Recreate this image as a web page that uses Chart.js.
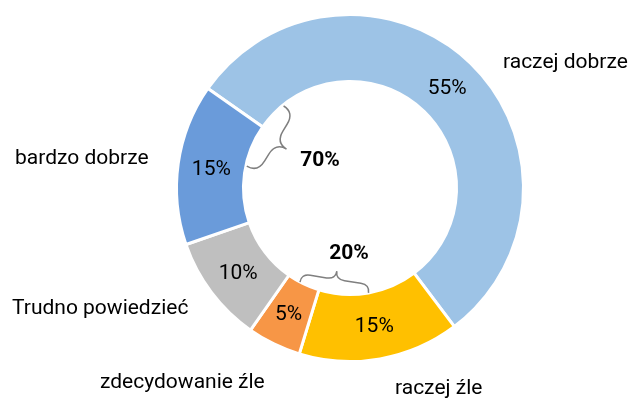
<!DOCTYPE html>
<html>
<head>
<meta charset="utf-8">
<script src="https://cdn.jsdelivr.net/npm/chart.js@4"></script>
<style>
  body { margin: 0; background: #fff; }
  #wrap { width: 632px; height: 402px; position: relative; }
</style>
</head>
<body>
<div id="wrap"><canvas id="chart"></canvas></div>
<script>
const ctx = document.getElementById("chart");

const categories = ["raczej dobrze", "raczej źle", "zdecydowanie źle", "Trudno powiedzieć", "bardzo dobrze"];
const values = [55, 15, 5, 10, 15];
const colors = ["#9DC3E6", "#FFC000", "#F79646", "#BFBFBF", "#6A9BDA"];

// totals shown next to the braces
const groupLabels = ["70%", "20%"];

// category label offsets from the doughnut centre (left, baseline)
const labelPos = [[153, -120], [45, 206], [-250, 200], [-338, 126], [-335, -24]];
// braces: angles in degrees clockwise from top
const braces = [
  { a1: -39, a2: -78, r: 105.5, w: 25, text: [-30, -27] },
  { a1: 170, a2: 208, r: 106.5, w: 16.5, text: [-1, 66] },
];

function drawBrace(c, x1, y1, x2, y2, nx, ny, w) {
  const len = Math.hypot(x2 - x1, y2 - y1);
  const ux = (x2 - x1) / len, uy = (y2 - y1) / len;
  const h = w / 2;
  const k = Math.min(h * 1.1, len / 5);
  const mx = (x1 + x2) / 2, my = (y1 + y2) / 2;
  const half = (px, py, s) => {
    // s = +1 going forward along chord, -1 backward
    c.moveTo(px, py);
    c.quadraticCurveTo(px + nx * h, py + ny * h, px + nx * h + ux * k * s, py + ny * h + uy * k * s);
    c.lineTo(mx + nx * h - ux * k * s, my + ny * h - uy * k * s);
    c.quadraticCurveTo(mx + nx * h, my + ny * h, mx + nx * w, my + ny * w);
  };
  c.beginPath();
  half(x1, y1, 1);
  half(x2, y2, -1);
  c.stroke();
}

const labelPlugin = {
  id: "labels",
  afterDatasetsDraw(chart) {
    const c = chart.ctx;
    const arcs = chart.getDatasetMeta(0).data;
    const cx = arcs[0].x, cy = arcs[0].y;
    c.save();
    c.fillStyle = "#000";
    c.font = "21px Roboto";
    c.textAlign = "center";
    c.textBaseline = "middle";
    arcs.forEach((arc, i) => {
      const p = arc.tooltipPosition();
      c.fillText(values[i] + "%", p.x, p.y + 1);
    });
    c.textAlign = "left";
    c.textBaseline = "alphabetic";
    categories.forEach((name, i) => {
      c.fillText(name, cx + labelPos[i][0], cy + labelPos[i][1]);
    });

    c.strokeStyle = "#7F7F7F";
    c.lineWidth = 1.5;
    braces.forEach((b, i) => {
      const pt = (a) => [cx + b.r * Math.sin(a * Math.PI / 180), cy - b.r * Math.cos(a * Math.PI / 180)];
      const [x1, y1] = pt(b.a1);
      const [x2, y2] = pt(b.a2);
      let nx = cx - (x1 + x2) / 2, ny = cy - (y1 + y2) / 2;
      const len = Math.hypot(nx, ny);
      drawBrace(c, x1, y1, x2, y2, nx / len, ny / len, b.w);
      c.font = "bold 21px Roboto";
      c.textAlign = "center";
      c.textBaseline = "middle";
      c.fillText(groupLabels[i], cx + b.text[0], cy + b.text[1]);
    });
    c.restore();
  },
};

new Chart(ctx, {
  type: "doughnut",
  data: {
    labels: categories,
    datasets: [
      {
        data: values,
        backgroundColor: colors,
        borderColor: "#fff",
        borderWidth: 3,
      },
    ],
  },
  options: {
    responsive: true,
    maintainAspectRatio: false,
    animation: false,
    rotation: -55,
    radius: 173.5,
    cutout: "61.4%",
    layout: { padding: { left: 68, right: 0, top: 0, bottom: 26 } },
    plugins: {
      legend: { display: false },
      tooltip: { enabled: false },
    },
  },
  plugins: [labelPlugin],
});
</script>
</body>
</html>
